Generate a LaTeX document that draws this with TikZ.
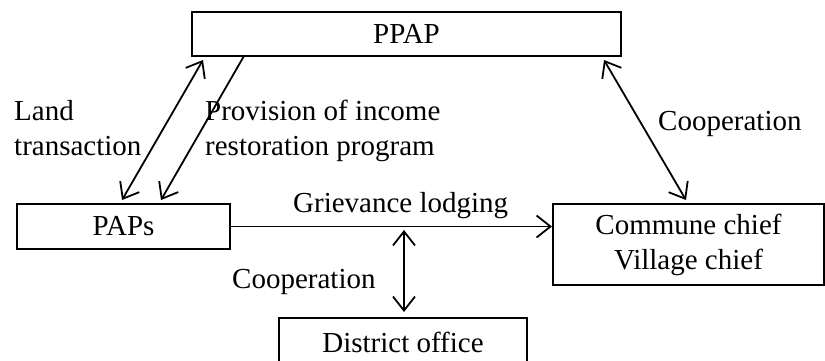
\documentclass[tikz,border=0pt]{standalone}
\usepackage{fontspec}
\setmainfont{Liberation Serif}
\usetikzlibrary{arrows.meta}
\tikzset{barb/.tip={Straight Barb[length=14pt,width=22pt]}}
\begin{document}
\begin{tikzpicture}[x=1pt,y=-1pt,
  box/.style={draw, line width=2pt, inner sep=0pt, align=center},
  conn/.style={line width=1.8pt},
  lbl/.style={inner sep=0pt, align=left},
  every node/.style={font=\fontsize{29}{35}\selectfont}]
\useasboundingbox (0,0) rectangle (825,360);
\node[box, minimum width=429pt, minimum height=44pt] (ppap) at (406.5,34) {PPAP};
\node[box, minimum width=213pt, minimum height=45pt] (paps) at (123.5,226.5) {PAPs};
\node[box, minimum width=271pt, minimum height=81pt] (commune) at (688.5,244.5) {Commune chief\\Village chief};
\node[box, minimum width=248pt, minimum height=48pt] (district) at (403,342) {District office};
\coordinate (l1) at (122,200);
\coordinate (l2) at (203,60);
\coordinate (p1) at (244,56);
\coordinate (p2) at (161,200);
\coordinate (c1) at (604,60);
\coordinate (c2) at (686,200);
\coordinate (v1) at (404,230);
\coordinate (v2) at (404,312);
\draw[conn, barb-barb] (l1) -- (l2);
\draw[conn, -barb] (p1) -- (p2);
\draw[conn, barb-barb] (c1) -- (c2);
\draw[conn, -barb] (paps.east) -- (paps.east -| commune.west);
\draw[conn, barb-barb] (v1) -- (v2);
\node[lbl, anchor=base west] (land) at (14,155) {Land\\transaction};
\node[lbl, anchor=base west] (prov) at (205,155) {Provision of income\\restoration program};
\node[lbl, anchor=base west] (coop1) at (658,130) {Cooperation};
\node[lbl, anchor=base west] (griev) at (293,212) {Grievance lodging};
\node[lbl, anchor=base west] (coop2) at (232,288) {Cooperation};
\end{tikzpicture}
\end{document}
